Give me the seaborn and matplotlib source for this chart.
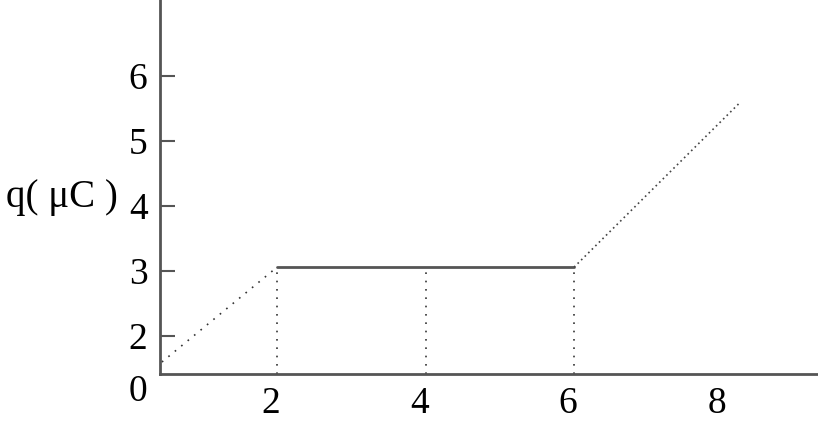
import seaborn as sns
import matplotlib.pyplot as plt
import matplotlib.transforms as mtransforms
import pandas as pd
import numpy as np

# Charge q (uC) against time; the sketch has a rising part, a flat part and a rising part
t_rise1 = [0.45, 2.0]
q_rise1 = [1.6, 3.06]
t_flat = [2.0, 6.0]
q_flat = [3.06, 3.06]
t_rise2 = [6.0, 8.24]
q_rise2 = [3.06, 5.6]
t_guides = [2, 4, 6]

x_ticks = [2, 4, 6, 8]
y_ticks = [2, 3, 4, 5, 6]

sns.set_style("white")
plt.rcParams['font.family'] = ['Liberation Serif', 'DejaVu Serif']
plt.rcParams['text.color'] = 'black'
plt.rcParams['xtick.color'] = 'black'
plt.rcParams['ytick.color'] = 'black'

fig = plt.figure(figsize=(8.18, 4.21), dpi=100)
ax = fig.add_axes([0.1956, 0.1116, 0.803, 0.888])

x_min, x_max = 0.424, 9.27
y_min, y_max = 1.415, 7.17

dots = (0, (1, 4))
sns.lineplot(x=t_rise1, y=q_rise1, ax=ax, color='#333333', lw=1.2, linestyle=dots)
sns.lineplot(x=t_flat, y=q_flat, ax=ax, color='#555555', lw=2)
sns.lineplot(x=t_rise2, y=q_rise2, ax=ax, color='#444444', lw=1.2, linestyle=(0, (1, 2)))

for t in t_guides:
    ax.plot([t, t], [y_min, q_flat[0]], color='#333333', lw=1.2, linestyle=dots)

ax.set_xlim(x_min, x_max)
ax.set_ylim(y_min, y_max)

ax.set_xticks(x_ticks)
ax.set_xticklabels([str(v) for v in x_ticks])
ax.set_yticks(y_ticks)
ax.set_yticklabels([str(v) for v in y_ticks])

ax.tick_params(axis='x', bottom=False, length=0, pad=9, labelsize=27,
               labelcolor='black')
ax.tick_params(axis='y', left=True, direction='in', length=11, width=1.5,
               color='#555555', pad=9, labelsize=27, labelcolor='black')

# the hand-drawn labels sit a little left of their guide lines
shift = mtransforms.ScaledTranslation(-6 / 100, 0, fig.dpi_scale_trans)
for lab in ax.get_xticklabels():
    lab.set_transform(lab.get_transform() + shift)

for side in ['top', 'right']:
    ax.spines[side].set_visible(False)
for side in ['left', 'bottom']:
    ax.spines[side].set_color('#555555')
    ax.spines[side].set_linewidth(2)

# origin label
ax.annotate('0', xy=(0, 0), xycoords='axes fraction', xytext=(-9, 0),
            textcoords='offset points', ha='right', va='top', fontsize=27)

# y label sitting next to the 4 tick
ax.annotate('q( μC )', xy=(0, 4), xycoords=('axes fraction', 'data'),
            xytext=(-30, 6), textcoords='offset points', ha='right',
            va='center', fontsize=28)

ax.set_xlabel('')
ax.set_ylabel('')

plt.savefig('out.png', dpi=100)
